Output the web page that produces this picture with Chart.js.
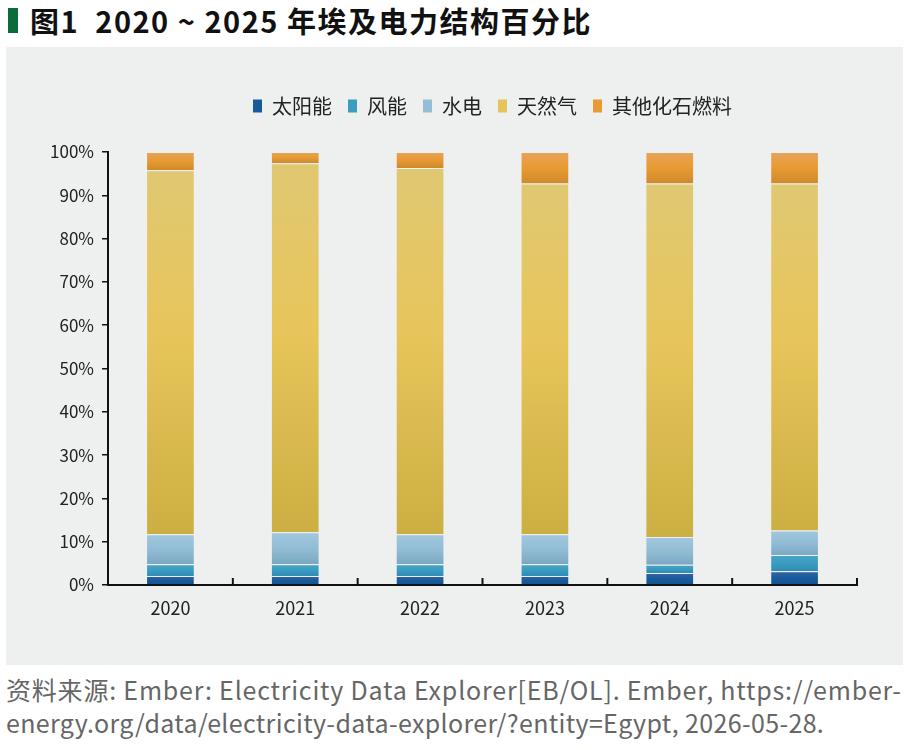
<!DOCTYPE html>
<html lang="zh">
<head>
<meta charset="UTF-8">
<title>埃及电力结构百分比</title>
<script src="https://cdn.jsdelivr.net/npm/chart.js"></script>
<style>
  body { margin: 0; background: #fff; width: 911px; height: 750px; position: relative; overflow: hidden;
         font-family: "Noto Sans CJK SC", "Noto Sans", sans-serif; }
  .titulo { position: absolute; left: 8px; top: 1px; height: 38px; display: flex; align-items: center; }
  .titulo .barra { width: 10px; height: 25px; background: #0b6b3a; margin-right: 12px; }
  .titulo span { font-size: 29px; font-weight: bold; color: #111; letter-spacing: 1.5px; white-space: pre; }
  .painel { position: absolute; left: 6px; top: 47px; width: 897px; height: 618px; background: #eef0ef; }
  .fonte { position: absolute; left: 6px; color: #666; font-size: 25px; white-space: nowrap; }
</style>
</head>
<body>
<div class="titulo"><div class="barra"></div><span>图1  2020 ~ 2025 年埃及电力结构百分比</span></div>
<div class="painel"><canvas id="grafico" width="897" height="618"></canvas></div>
<div class="fonte" style="top:671px; letter-spacing:0.8px">资料来源: Ember: Electricity Data Explorer[EB/OL]. Ember, https://ember-</div>
<div class="fonte" style="top:704px; letter-spacing:0.35px">energy.org/data/electricity-data-explorer/?entity=Egypt, 2026-05-28.</div>

<script>
// dados (% da geração)
const anos = ["2020", "2021", "2022", "2023", "2024", "2025"];
const solar = [2.1, 2.1, 2.1, 2.1, 2.8, 3.2];
const eolica = [2.7, 2.7, 2.7, 2.7, 1.9, 3.7];
const hidro = [6.9, 7.4, 6.9, 6.9, 6.4, 5.7];
const gas = [84.1, 85.2, 84.6, 81.0, 81.6, 80.1];
const outros = [4.2, 2.6, 3.7, 7.3, 7.3, 7.3];
const ticksY = [0, 10, 20, 30, 40, 50, 60, 70, 80, 90, 100];

const series = [solar, eolica, hidro, gas, outros];

// gradiente vertical por segmento (topo -> base)
function gradiente(stops, solida) {
    return function (context) {
        const chart = context.chart;
        if (!chart.chartArea || context.dataIndex === undefined) return solida;
        const y = chart.scales.y;
        let base = 0;
        for (let k = 0; k < context.datasetIndex; k++) base += series[k][context.dataIndex];
        const topo = base + series[context.datasetIndex][context.dataIndex];
        const y0 = y.getPixelForValue(topo);
        const y1 = y.getPixelForValue(base);
        if (!isFinite(y0) || !isFinite(y1) || y0 === y1) return solida;
        const g = chart.ctx.createLinearGradient(0, y0, 0, y1);
        stops.forEach(function (s) { g.addColorStop(s[0], s[1]); });
        return g;
    };
}

// marcas do eixo x voltadas para dentro, entre as categorias
const ticksX = {
    id: "ticksX",
    afterDatasetsDraw(chart) {
        const x = chart.scales.x, ctx = chart.ctx, b = chart.chartArea.bottom;
        ctx.save();
        ctx.strokeStyle = "#111";
        ctx.lineWidth = 2;
        for (let i = 0; i < anos.length; i++) {
            const px = x.getPixelForValue(i) + (x.getPixelForValue(1) - x.getPixelForValue(0)) / 2;
            ctx.beginPath();
            ctx.moveTo(px, b);
            ctx.lineTo(px, b - 7);
            ctx.stroke();
        }
        ctx.restore();
    }
};

// espaço abaixo da legenda e deslocamento para a direita
const espacoLegenda = {
    id: "espacoLegenda",
    beforeInit(chart) {
        const fitOriginal = chart.legend.fit;
        chart.legend.fit = function () {
            fitOriginal.bind(chart.legend)();
            this.height += 26;
        };
    },
    afterLayout(chart) {
        chart.legend.left += 61;
        chart.legend.right += 61;
    }
};

const borda = "rgba(235,240,240,0.85)";

const dados = {
    labels: anos,
    datasets: [
        { label: "太阳能", data: solar, backgroundColor: gradiente([[0, "#3a62a0"], [0.5, "#195a9c"], [1, "#0d5494"]], "#17599a") },
        { label: "风能", data: eolica, backgroundColor: gradiente([[0, "#48a6c6"], [0.5, "#3b9cc0"], [1, "#2f8cb6"]], "#3b9cc0") },
        { label: "水电", data: hidro, backgroundColor: gradiente([[0, "#a0c8de"], [0.5, "#93bdd5"], [1, "#7ba7c2"]], "#94bed6") },
        { label: "天然气", data: gas, backgroundColor: gradiente([[0, "#e0c872"], [0.45, "#e7c55a"], [1, "#ccaf42"]], "#e5c45a") },
        { label: "其他化石燃料", data: outros, backgroundColor: gradiente([[0, "#e6a35a"], [0.5, "#e89a32"], [1, "#cf892c"]], "#e89a34") }
    ].map(function (d) {
        return Object.assign(d, { borderColor: borda, borderWidth: 1, borderSkipped: "start",
            barPercentage: 0.39, categoryPercentage: 1 });
    })
};

new Chart(document.getElementById("grafico"), {
    type: "bar",
    data: dados,
    plugins: [ticksX, espacoLegenda],
    options: {
        responsive: false,
        animation: false,
        layout: { padding: { top: 33, right: 46, left: 0, bottom: 0 } },
        plugins: {
            tooltip: { enabled: false },
            legend: {
                position: "top",
                labels: {
                    color: "#222",
                    font: { family: "Noto Sans CJK SC", size: 20 },
                    boxWidth: 9,
                    boxHeight: 13,
                    padding: 16,
                    generateLabels(chart) {
                        const cores = ["#17599a", "#3b9cc0", "#94bed6", "#e5c45a", "#e89a34"];
                        return chart.data.datasets.map(function (d, i) {
                            return { text: d.label, fillStyle: cores[i], strokeStyle: cores[i], lineWidth: 0,
                                     datasetIndex: i, fontColor: "#222" };
                        });
                    }
                }
            }
        },
        scales: {
            x: {
                stacked: true,
                grid: { display: false },
                border: { display: true, color: "#111", width: 2 },
                ticks: { color: "#222", font: { family: "Noto Sans CJK SC", size: 18 }, padding: 4 },
                afterFit(scale) { scale.height = 80; }
            },
            y: {
                stacked: true,
                min: 0,
                max: 100,
                afterBuildTicks(scale) { scale.ticks = ticksY.map(function (v) { return { value: v }; }); },
                grid: { display: true, drawOnChartArea: false, drawTicks: true, tickLength: 6, color: "#111", lineWidth: 1.5 },
                border: { display: true, color: "#111", width: 2 },
                ticks: {
                    color: "#222",
                    font: { family: "Noto Sans CJK SC", size: 17 },
                    padding: 8,
                    callback: function (v) { return v + "%"; }
                },
                afterFit(scale) { scale.width = 102; }
            }
        }
    }
});
</script>
</body>
</html>
